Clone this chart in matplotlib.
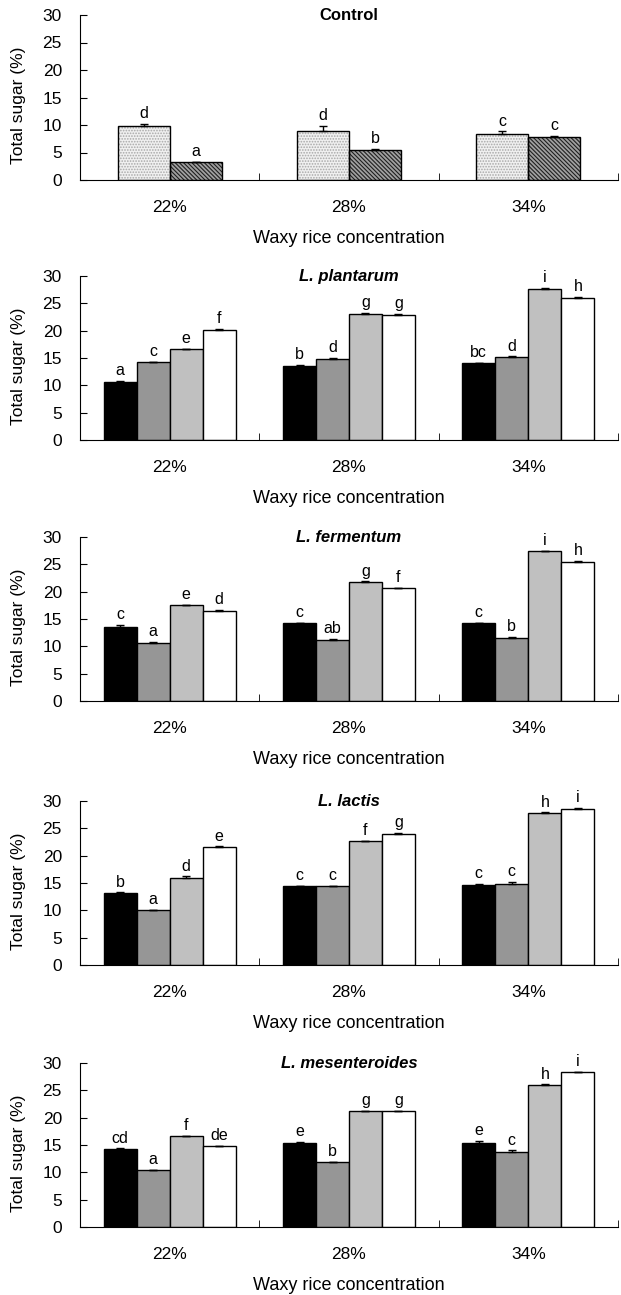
import matplotlib
matplotlib.use('Agg')
import matplotlib.pyplot as plt
import numpy as np

plt.rcParams['font.family'] = ['Liberation Sans', 'DejaVu Sans']
plt.rcParams['hatch.linewidth'] = 0.8

# categories
concentrations = ['22%', '28%', '34%']

# values per concentration group (bars left -> right)
control_vals = [[9.8, 3.3], [9.0, 5.5], [8.4, 7.9]]
control_err = [[0.4, 0.05], [0.8, 0.1], [0.45, 0.05]]
control_letters = [['d', 'a'], ['d', 'b'], ['c', 'c']]

plantarum_vals = [[10.6, 14.2, 16.6, 20.2], [13.6, 14.9, 23.1, 22.9], [14.0, 15.2, 27.7, 26.0]]
plantarum_err = [[0.2, 0.1, 0.1, 0.1], [0.1, 0.1, 0.1, 0.1], [0.1, 0.1, 0.1, 0.2]]
plantarum_letters = [['a', 'c', 'e', 'f'], ['b', 'd', 'g', 'g'], ['bc', 'd', 'i', 'h']]

fermentum_vals = [[13.6, 10.7, 17.5, 16.5], [14.2, 11.2, 21.8, 20.6], [14.2, 11.6, 27.4, 25.4]]
fermentum_err = [[0.3, 0.1, 0.1, 0.1], [0.1, 0.1, 0.1, 0.1], [0.1, 0.1, 0.1, 0.3]]
fermentum_letters = [['c', 'a', 'e', 'd'], ['c', 'ab', 'g', 'f'], ['c', 'b', 'i', 'h']]

lactis_vals = [[13.2, 10.0, 16.0, 21.6], [14.4, 14.4, 22.6, 24.0], [14.7, 14.9, 27.8, 28.6]]
lactis_err = [[0.1, 0.1, 0.2, 0.1], [0.1, 0.1, 0.1, 0.1], [0.1, 0.3, 0.1, 0.1]]
lactis_letters = [['b', 'a', 'd', 'e'], ['c', 'c', 'f', 'g'], ['c', 'c', 'h', 'i']]

mesenteroides_vals = [[14.3, 10.4, 16.6, 14.8], [15.4, 11.8, 21.2, 21.2], [15.4, 13.8, 25.9, 28.3]]
mesenteroides_err = [[0.1, 0.1, 0.1, 0.1], [0.1, 0.1, 0.1, 0.1], [0.3, 0.2, 0.2, 0.1]]
mesenteroides_letters = [['cd', 'a', 'f', 'de'], ['e', 'b', 'g', 'g'], ['e', 'c', 'h', 'i']]

panels = [
    ('Control', 'normal', control_vals, control_err, control_letters),
    ('L. plantarum', 'italic', plantarum_vals, plantarum_err, plantarum_letters),
    ('L. fermentum', 'italic', fermentum_vals, fermentum_err, fermentum_letters),
    ('L. lactis', 'italic', lactis_vals, lactis_err, lactis_letters),
    ('L. mesenteroides', 'italic', mesenteroides_vals, mesenteroides_err, mesenteroides_letters),
]

# layout in pixels
W, H = 621, 1295
left_px, right_px = 80, 618
panel_px = [(15, 180), (276, 440), (537, 701), (801, 965), (1063, 1227)]

bar_colors = ['black', '#969696', '#c0c0c0', 'white']

fig = plt.figure(figsize=(W / 100, H / 100), dpi=100)

for i, (title, tstyle, vals, errs, lets) in enumerate(panels):
    top, bot = panel_px[i]
    ax = fig.add_axes([left_px / W, 1 - bot / H, (right_px - left_px) / W, (bot - top) / H])
    n = len(vals[0])
    width = 0.29 if n == 2 else 0.184
    x = np.arange(len(concentrations))

    for j in range(n):
        v = [g[j] for g in vals]
        e = [g[j] for g in errs]
        xs = x + (j - (n - 1) / 2) * width
        if n == 2:
            # control bars are textured
            if j == 0:
                ax.bar(xs, v, width, color='#f0f0f0', edgecolor='#a8a8a8', hatch='......', lw=0, zorder=2)
            else:
                ax.bar(xs, v, width, color='#a0a0a0', edgecolor='#202020', hatch='\\\\\\\\\\\\\\\\', lw=0, zorder=2)
            ax.bar(xs, v, width, fill=False, edgecolor='black', lw=1, zorder=3)
        else:
            ax.bar(xs, v, width, color=bar_colors[j], edgecolor='black', lw=1, zorder=2)
        ax.errorbar(xs, v, yerr=[np.zeros(len(e)), e], fmt='none', ecolor='black',
                    elinewidth=1, capsize=3, capthick=1, zorder=4)
        for xx, vv, ee, ll in zip(xs, v, e, [g[j] for g in lets]):
            ax.annotate(ll, (xx, vv + ee), xytext=(0, 2), textcoords='offset points',
                        ha='center', va='bottom', fontsize=11.5, annotation_clip=False)

    ax.text(0.5, 1.0, title, transform=ax.transAxes, ha='center', va='center',
            fontsize=12, fontweight='bold', style=tstyle)

    ax.set_xlim(-0.5, 2.5)
    ax.set_ylim(0, 30)
    ax.set_yticks(range(0, 31, 5))
    ax.spines['top'].set_visible(False)
    ax.spines['right'].set_visible(False)
    ax.tick_params(axis='y', direction='in', length=5, pad=13, labelsize=12.5)
    ax.set_xticks(x)
    ax.set_xticklabels(concentrations)
    ax.set_xticks([-0.5, 0.5, 1.5, 2.5], minor=True)
    ax.tick_params(axis='x', which='major', length=0, pad=14.5, labelsize=12.5)
    ax.tick_params(axis='x', which='minor', direction='in', length=5)
    ax.set_xlabel('Waxy rice concentration', fontsize=13, labelpad=10.5)
    ax.set_ylabel('Total sugar (%)', fontsize=12.5)
    ax.yaxis.set_label_coords(-0.10, 0.45)

fig.savefig('out.png', dpi=100)
